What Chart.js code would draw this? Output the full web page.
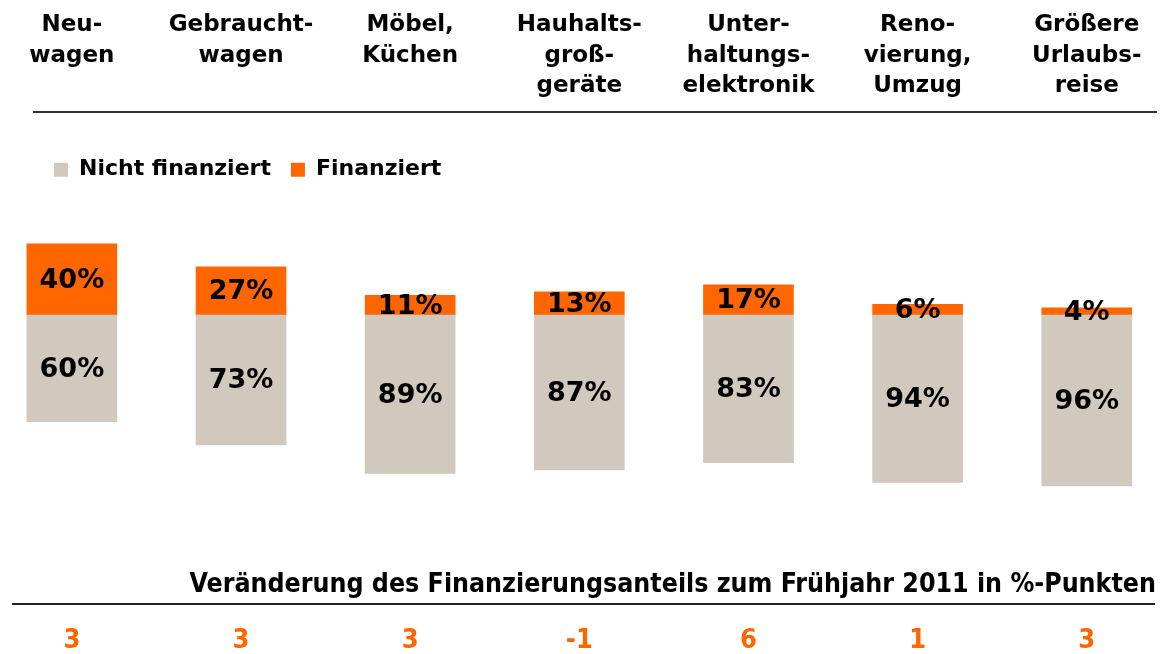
<!DOCTYPE html>
<html><head><meta charset="utf-8">
<script src="https://cdn.jsdelivr.net/npm/chart.js@4.4.1/dist/chart.umd.min.js"></script>
<style>html,body{margin:0;padding:0;background:#fff}canvas{display:block}</style>
</head><body>
<canvas id="c" width="1160" height="654"></canvas>
<script>
const categoryLabels = [
  ['Neu-', 'wagen'],
  ['Gebraucht-', 'wagen'],
  ['Möbel,', 'Küchen'],
  ['Hauhalts-', 'groß-', 'geräte'],
  ['Unter-', 'haltungs-', 'elektronik'],
  ['Reno-', 'vierung,', 'Umzug'],
  ['Größere', 'Urlaubs-', 'reise']
];
const notFinanced = [60, 73, 89, 87, 83, 94, 96];
const financed = [40, 27, 11, 13, 17, 6, 4];
const changePoints = [3, 3, 3, -1, 6, 1, 3];
const seriesNames = ['Nicht finanziert', 'Finanziert'];
const bottomTitle = 'Veränderung des Finanzierungsanteils zum Frühjahr 2011 in %-Punkten';

const ORANGE = '#FF6600', GREY = '#D1C9BD';
const BOLD = '"DejaVu Sans", Verdana, sans-serif';
const COND = '"DejaVu Sans Condensed", "DejaVu Sans", sans-serif';

const xMin = -0.2239, xMax = 6.4094;
const indexTicks = s => { s.ticks = categoryLabels.map((_, i) => ({ value: i })); };

const barLabels = {
  id: 'barLabels',
  afterDatasetsDraw(chart) {
    const ctx = chart.ctx;
    ctx.save();
    ctx.font = 'bold 27px ' + BOLD;
    ctx.fillStyle = '#000';
    ctx.textAlign = 'center';
    ctx.textBaseline = 'middle';
    chart.data.datasets.forEach((ds, di) => {
      const vals = di === 0 ? notFinanced : financed;
      chart.getDatasetMeta(di).data.forEach((el, i) => {
        ctx.fillText(vals[i] + '%', el.x, (el.y + el.base) / 2 + 1.5);
      });
    });
    ctx.restore();
  }
};

const bottomRule = {
  id: 'bottomRule',
  afterDraw(chart) {
    const y = chart.scales.x.top - 23;
    const ctx = chart.ctx;
    ctx.save();
    ctx.strokeStyle = '#222';
    ctx.lineWidth = 2;
    ctx.beginPath();
    ctx.moveTo(12, y);
    ctx.lineTo(1155, y);
    ctx.stroke();
    ctx.restore();
  }
};

new Chart(document.getElementById('c'), {
  type: 'bar',
  data: {
    datasets: [
      { label: seriesNames[0], data: notFinanced.map((v, i) => ({ x: i, y: [-v, 0] })), backgroundColor: GREY, borderWidth: 0, clip: false },
      { label: seriesNames[1], data: financed.map((v, i) => ({ x: i, y: [0, v] })), backgroundColor: ORANGE, borderWidth: 0, clip: false }
    ]
  },
  options: {
    responsive: false,
    animation: false,
    devicePixelRatio: 1,
    layout: { padding: { top: 0, left: 34, right: 4, bottom: 0 } },
    datasets: { bar: { grouped: false, barThickness: 90 } },
    scales: {
      xTop: {
        type: 'linear', position: 'top', min: xMin, max: xMax, bounds: 'data', offset: false, weight: 3000,
        afterBuildTicks: indexTicks,
        grid: { display: false, drawTicks: false },
        border: { display: true, color: '#333', width: 2 },
        ticks: { autoSkip: false, maxRotation: 0, minRotation: 0, padding: 10, crossAlign: 'far', color: '#000',
          font: { family: BOLD, weight: 'bold', size: 23, lineHeight: 1.33 },
          callback: v => categoryLabels[v] }
      },
      x: {
        type: 'linear', position: 'bottom', min: xMin, max: xMax, bounds: 'data', offset: false, weight: 3000,
        afterBuildTicks: indexTicks,
        grid: { display: false, drawTicks: false },
        border: { display: false },
        ticks: { autoSkip: false, maxRotation: 0, minRotation: 0, padding: 0, color: ORANGE,
          font: { family: COND, weight: 'bold', size: 27, lineHeight: 1 },
          callback: v => String(changePoints[v]) }
      },
      y: { display: false, min: -136.01, max: 69.78 }
    },
    plugins: {
      legend: {
        display: true, position: 'top', align: 'start', weight: 1000,
        title: { display: true, text: '', padding: { top: 7, bottom: 8 }, font: { size: 10 } },
        labels: { boxWidth: 14, boxHeight: 14, padding: 20, color: '#000',
          font: { family: BOLD, weight: 'bold', size: 22 } }
      },
      title: {
        display: true, position: 'bottom', align: 'end', text: bottomTitle, color: '#000',
        font: { family: COND, weight: 'bold', size: 26.5, lineHeight: 1.2 },
        padding: { top: 12, bottom: 26.1 }
      },
      tooltip: { enabled: false }
    }
  },
  plugins: [barLabels, bottomRule]
});
</script>
</body></html>
